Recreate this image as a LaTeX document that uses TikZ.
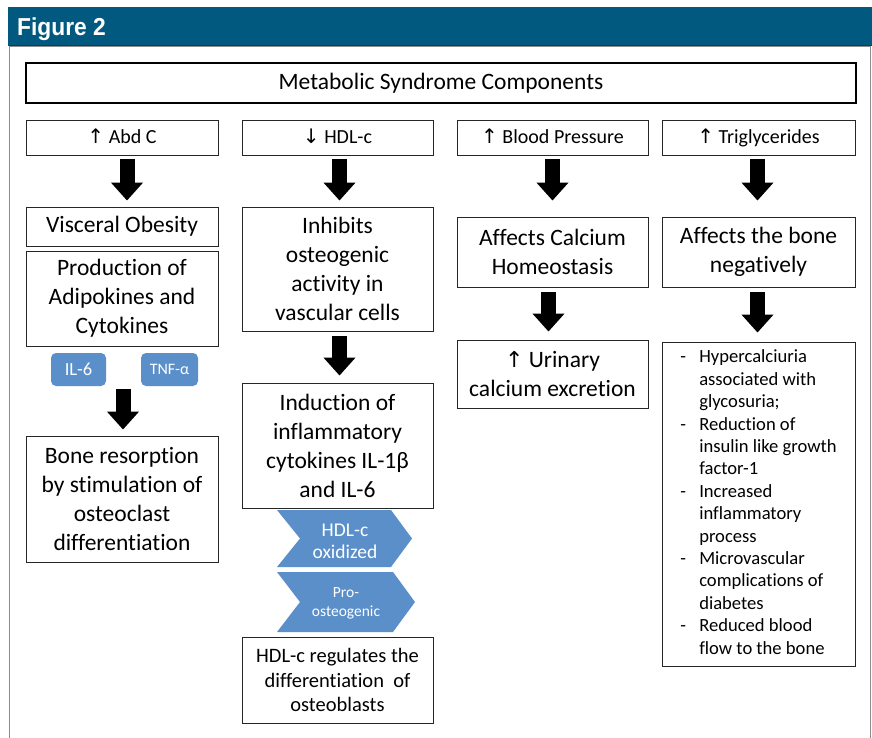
\documentclass[tikz,border=0pt]{standalone}
\usepackage{fontspec}
\setmainfont[Ligatures=NoCommon]{Carlito}
\newfontfamily\symfont{DejaVu Sans}
\newfontfamily\headfont[FakeStretch=0.93]{Liberation Sans}
\usetikzlibrary{arrows.meta}
\definecolor{headblue}{RGB}{2,89,128}
\definecolor{tagblue}{RGB}{91,143,201}
\newcommand\upar{{\symfont\fontsize{20}{22}\selectfont ↑}}
\newcommand\dnar{{\symfont\fontsize{20}{22}\selectfont ↓}}
\newcommand\mybox[7]{\node[#6, minimum width={(#4)-(#2)}, minimum height={(#5)-(#3)}] (#1) at ({((#2)+(#4))/2},{((#3)+(#5))/2}) {#7};}
\tikzset{
  box/.style={draw=black!85, line width=0.9pt, fill=white, inner sep=1pt, align=center, font=\fontsize{23.5}{29}\selectfont},
  topbox/.style={box, font=\fontsize{20}{24}\selectfont, text height=14pt, text depth=1.5pt},
  titlebox/.style={box, line width=2.2pt, draw=black, font=\fontsize{23.5}{28}\selectfont},
  tag/.style={fill=tagblue, rounded corners=5pt, text=white, inner sep=0pt, align=center},
  chev/.style={fill=tagblue},
  chevtext/.style={text=white, align=center, inner sep=0pt},
  blockarrow/.style={line width=15pt, -{Triangle[width=31pt,length=18pt]}},
}
\begin{document}
\begin{tikzpicture}[x=1pt,y=-1pt]
\useasboundingbox (0,0) rectangle (872,737);
\fill[white] (0,0) rectangle (872,737);
% header and frame
\draw[black!45, line width=1.2pt] (9.5,46) rectangle (870.5,745);
\fill[headblue] (8,7) rectangle (872,45.5);
\draw[black!80, line width=1.2pt] (9,45.8) -- (872,45.8);
\node[anchor=base west, inner sep=0pt, text=white, font=\headfont\bfseries\fontsize{24.5}{28}\selectfont] (fig) at (17,35.5) {Figure 2};

% title
\mybox{title}{26}{63}{856}{103}{titlebox}{Metabolic Syndrome Components}

% row 1
\mybox{a1}{26}{120}{218}{155}{topbox}{\upar\ Abd C}
\mybox{b1}{242}{120}{433}{155}{topbox}{\dnar\ HDL-c}
\mybox{c1}{457}{120}{648}{155}{topbox}{\upar\ Blood Pressure}
\mybox{d1}{662}{120}{855}{155}{topbox}{\upar\ Triglycerides}

% column 1
\mybox{a2}{26}{207}{218}{246}{box}{Visceral Obesity}
\mybox{a3}{26}{251}{218}{346}{box}{Production of\\Adipokines and\\Cytokines}
\mybox{il6}{51}{353}{106}{386}{tag, font=\fontsize{18.5}{21}\selectfont}{IL-6}
\mybox{tnf}{141}{353}{198}{386}{tag, font=\fontsize{16}{19}\selectfont}{TNF-α}
\mybox{a4}{26}{436}{218}{562}{box}{Bone resorption\\by stimulation of\\osteoclast\\differentiation}
\draw[blockarrow] ([xshift=5pt,yshift=-4pt]a1.south) -- ([xshift=5pt,yshift=6pt]a2.north);
\draw[blockarrow] ([xshift=1pt,yshift=-43pt]a3.south) -- ([xshift=1pt,yshift=6pt]a4.north);

% column 2
\mybox{b2}{242}{207}{433}{331}{box}{Inhibits\\osteogenic\\activity in\\vascular cells}
\mybox{b3}{242}{383}{433}{508}{box}{Induction of\\inflammatory\\cytokines IL-1β\\and IL-6}
\fill[chev] (277,510) -- (391,510) -- (412,538.5) -- (391,567) -- (277,567) -- (300,538.5) -- cycle;
\node[chevtext, font=\fontsize{19.5}{22}\selectfont] (ch1) at (345,541) {HDL-c\\oxidized};
\fill[chev] (277,572) -- (393,572) -- (415,602) -- (393,632) -- (277,632) -- (300,602) -- cycle;
\node[chevtext, font=\fontsize{15.5}{19}\selectfont] (ch2) at (346,603) {Pro-\\osteogenic};
\mybox{b4}{242}{637}{433}{723}{box, font=\fontsize{20.5}{24.5}\selectfont}{HDL-c regulates the\\differentiation \ of\\osteoblasts}
\draw[blockarrow] ([xshift=2pt,yshift=-4pt]b1.south) -- ([xshift=2pt,yshift=6pt]b2.north);
\draw[blockarrow] ([xshift=2pt,yshift=-5pt]b2.south) -- ([xshift=2pt,yshift=7pt]b3.north);

% column 3
\mybox{c2}{457}{217}{648}{287}{box}{Affects Calcium\\Homeostasis}
\mybox{c3}{457}{340}{648}{408}{box}{{\symfont\fontsize{22}{24}\selectfont ↑}\ Urinary\\calcium excretion}
\draw[blockarrow] ([yshift=-4pt]c1.south) -- ([yshift=16pt]c2.north);
\draw[blockarrow] ([xshift=-4pt,yshift=-5pt]c2.south) -- ([xshift=-4pt,yshift=8pt]c3.north);

% column 4
\mybox{d2}{662}{217}{855}{287}{box}{Affects the bone\\negatively}
\mybox{d3}{662}{342}{855}{666}{box, font=\fontsize{18.6}{22.4}\selectfont, align=left}{%
\begin{tabular}{@{}p{19pt}@{}l@{}}
- & Hypercalciuria\\
 & associated with\\
 & glycosuria;\\
- & Reduction of\\
 & insulin like growth\\
 & factor-1\\
- & Increased\\
 & inflammatory\\
 & process\\
- & Microvascular\\
 & complications of\\
 & diabetes\\
- & Reduced blood\\
 & flow to the bone
\end{tabular}}
\draw[blockarrow] ([xshift=-1pt,yshift=-4pt]d1.south) -- ([xshift=-1pt,yshift=16pt]d2.north);
\draw[blockarrow] ([xshift=-1pt,yshift=-5pt]d2.south) -- ([xshift=-1pt,yshift=9pt]d3.north);
\end{tikzpicture}
\end{document}
